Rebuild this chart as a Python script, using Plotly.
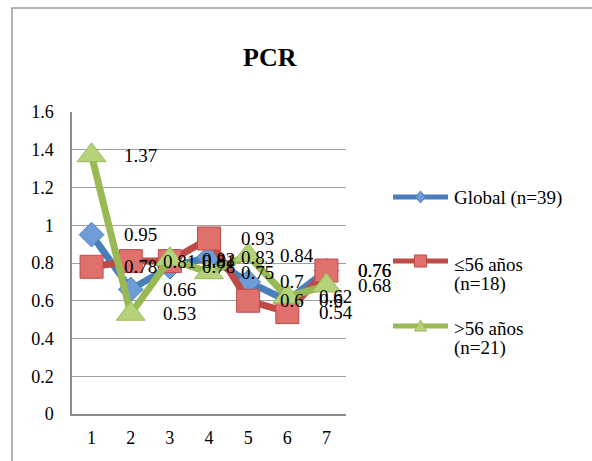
import plotly.graph_objects as go

# Chart data
categories = [1, 2, 3, 4, 5, 6, 7]
global_vals = [0.95, 0.66, 0.78, 0.83, 0.70, 0.60, 0.76]
young_vals = [0.78, 0.81, 0.81, 0.93, 0.60, 0.54, 0.76]
old_vals = [1.37, 0.53, 0.82, 0.75, 0.84, 0.62, 0.68]
y_ticks = [0, 0.2, 0.4, 0.6, 0.8, 1.0, 1.2, 1.4, 1.6]
chart_title = "PCR"
legend_lines = [["Global (n=39)"], ["≤56 años", "(n=18)"], [">56 años", "(n=21)"]]

FONT = "Liberation Serif"
W, H = 592, 461
L, R, T, B = 72, 346, 112, 414  # plot area in pixels


def px_x(px):
    return (px - L) / (R - L)


def px_y(py):
    return (B - py) / (B - T)


styles = [
    dict(line="#4a7ebb", fill="#6d9cd6", symbol="diamond", size=19),
    dict(line="#be4b48", fill="#e0706c", symbol="square", size=23),
    dict(line="#98b954", fill="#b5d27a", symbol="triangle-up", size=25),
]
all_series = [global_vals, young_vals, old_vals]

fig = go.Figure()
for vals, st, lines in zip(all_series, styles, legend_lines):
    fig.add_trace(go.Scatter(
        x=categories, y=vals, mode="lines+markers",
        name=" ".join(lines), showlegend=False,
        line=dict(color=st["line"], width=7),
        marker=dict(symbol=st["symbol"], size=st["size"], color=st["fill"],
                    line=dict(color=st["line"], width=1)),
        cliponaxis=False,
    ))

annotations = []
# value labels to the right of each point
for vals in all_series:
    for x, v in zip(categories, vals):
        annotations.append(dict(
            x=x, y=v, xref="x", yref="y", text=f"{v:g}", showarrow=False,
            xanchor="left", yanchor="middle", xshift=30,
            font=dict(family=FONT, size=19, color="black"),
        ))

# title
annotations.append(dict(
    x=px_x(270), y=px_y(57), xref="paper", yref="paper", text=f"<b>{chart_title}</b>",
    showarrow=False, xanchor="center", yanchor="middle",
    font=dict(family=FONT, size=26, color="black"),
))

shapes = []
# outer chart frame
shapes.append(dict(type="rect", xref="paper", yref="paper",
                   x0=px_x(12), x1=px_x(620), y0=px_y(490), y1=px_y(8),
                   line=dict(color="#9a9a9a", width=1.5), fillcolor="rgba(0,0,0,0)",
                   layer="below"))

# legend
legend_rows = [197, 261, 326]
text_rows = [[198], [264, 284], [328, 348]]
for st, ly, trows, lines in zip(styles, legend_rows, text_rows, legend_lines):
    shapes.append(dict(type="line", xref="paper", yref="paper",
                       x0=px_x(393), x1=px_x(448), y0=px_y(ly), y1=px_y(ly),
                       line=dict(color=st["line"], width=5)))
    cx = 420.5
    if st["symbol"] == "diamond":
        pts = [(cx, ly - 6), (cx + 5, ly), (cx, ly + 6), (cx - 5, ly)]
    elif st["symbol"] == "square":
        pts = [(cx - 6, ly - 6), (cx + 6, ly - 6), (cx + 6, ly + 6), (cx - 6, ly + 6)]
    else:
        pts = [(cx, ly - 6), (cx + 6, ly + 5), (cx - 6, ly + 5)]
    path = "M " + " L ".join(f"{px_x(a):.5f},{px_y(b):.5f}" for a, b in pts) + " Z"
    shapes.append(dict(type="path", xref="paper", yref="paper", path=path,
                       fillcolor=st["fill"], line=dict(color=st["line"], width=1)))
    for ty, txt in zip(trows, lines):
        annotations.append(dict(
            x=px_x(452), y=px_y(ty), xref="paper", yref="paper", text=txt,
            showarrow=False, xanchor="left", yanchor="middle",
            font=dict(family=FONT, size=19, color="black"),
        ))

fig.update_layout(
    width=W, height=H,
    margin=dict(l=L, r=W - R, t=T, b=H - B, pad=0),
    paper_bgcolor="white", plot_bgcolor="white",
    font=dict(family=FONT, size=18, color="black"),
    showlegend=False,
    annotations=annotations,
    shapes=shapes,
    xaxis=dict(
        range=[0.5, 7.5], tickvals=categories, ticktext=[str(c) for c in categories],
        showgrid=False, zeroline=False, showline=True, linecolor="#8c8c8c", linewidth=1.5,
        ticks="", ticklabelstandoff=7, tickfont=dict(family=FONT, size=18),
        automargin=False, fixedrange=True,
    ),
    yaxis=dict(
        range=[0, 1.6], tickvals=y_ticks, showgrid=True, gridcolor="#a0a0a0", gridwidth=1,
        zeroline=False, showline=True, linecolor="#8c8c8c", linewidth=1.5,
        ticks="", ticklabelstandoff=13, tickfont=dict(family=FONT, size=18),
        automargin=False, fixedrange=True,
    ),
)

fig.write_html("out.html")
